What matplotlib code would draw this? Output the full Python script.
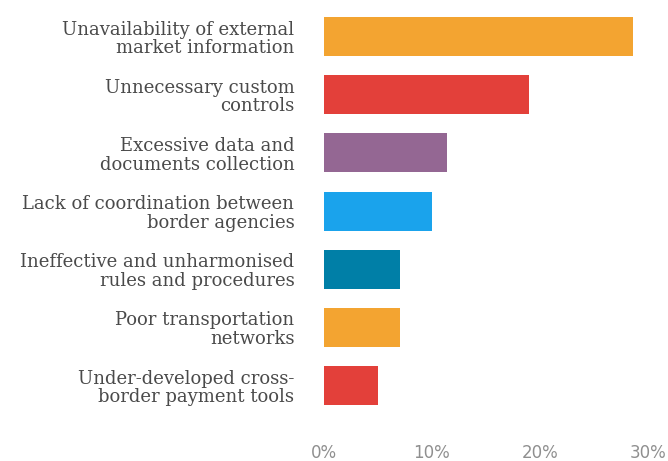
import matplotlib
matplotlib.use("Agg")
import matplotlib.pyplot as plt
from matplotlib.ticker import FuncFormatter

# share of respondents naming each barrier (%)
barriers = [
    "Unavailability of external\nmarket information",
    "Unnecessary custom\ncontrols",
    "Excessive data and\ndocuments collection",
    "Lack of coordination between\nborder agencies",
    "Ineffective and unharmonised\nrules and procedures",
    "Poor transportation\nnetworks",
    "Under-developed cross-\nborder payment tools",
]
shares = [28.6, 19.0, 11.4, 10.0, 7.1, 7.1, 5.0]
colors = ["#F3A431", "#E3403A", "#946793", "#1AA3EC", "#007FA7", "#F3A431", "#E3403A"]
xticks = [0, 10, 20, 30]

fig = plt.figure(figsize=(6.68, 4.61), dpi=100)
ax = fig.add_axes([0.4843, 0.1007, 0.4865, 0.883])

ypos = list(range(len(barriers)))
ax.barh(ypos, shares, height=0.67, color=colors)
ax.set_ylim(len(barriers) - 0.5, -0.5)
ax.set_xlim(0, 30)

ax.set_yticks(ypos)
ax.set_yticklabels(barriers, family="DejaVu Serif", fontsize=13,
                   color="#4a4a4a", linespacing=1.05)
ax.set_xticks(xticks)
ax.xaxis.set_major_formatter(FuncFormatter(lambda v, p: f"{v:.0f}%"))
for lab in ax.get_xticklabels():
    lab.set_fontsize(12)
    lab.set_color("#8f8f8f")

ax.tick_params(axis="y", length=0, pad=21)
ax.tick_params(axis="x", length=0, pad=21)
for s in ax.spines.values():
    s.set_visible(False)

fig.savefig("out.png", dpi=100)
